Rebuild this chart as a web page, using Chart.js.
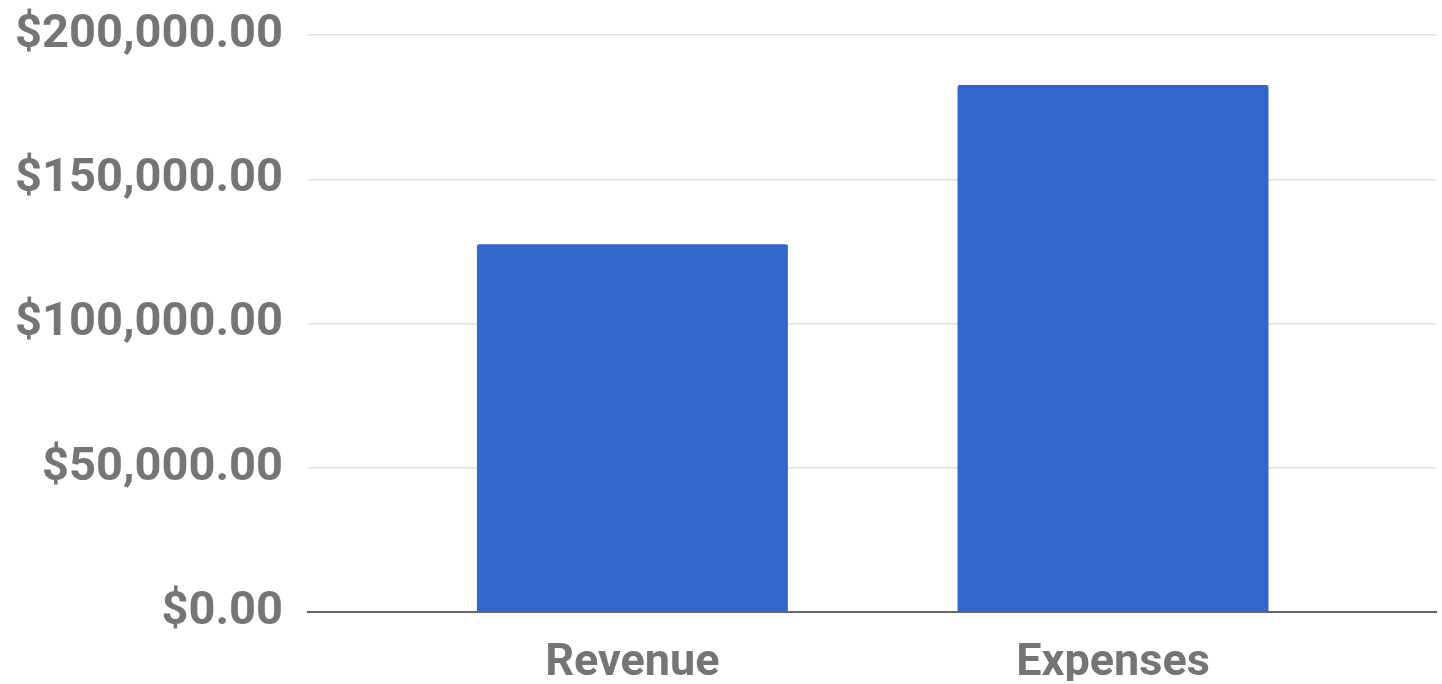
<!DOCTYPE html>
<html>
<head>
<meta charset="utf-8">
<script src="https://cdn.jsdelivr.net/npm/chart.js@4/dist/chart.umd.min.js"></script>
<style>
  html, body { margin: 0; padding: 0; background: #fff; }
  #wrap { width: 1442px; height: 684px; }
</style>
</head>
<body>
<div id="wrap"><canvas id="grafico"></canvas></div>
<script>
const categorias = ['Revenue', 'Expenses']
const valores = [127500, 182700]
const yTicks = [0, 50000, 100000, 150000, 200000]

const dinero = v => '$' + v.toLocaleString('en-US', { minimumFractionDigits: 2, maximumFractionDigits: 2 })

const puntos = categorias.map((c, i) => ({ x: i, y: valores[i] }))

new Chart(document.getElementById('grafico'), {
    type: 'bar',
    data: {
        datasets: [
            {
                label: 'Amount',
                backgroundColor: '#3366cc',
                borderRadius: 2,
                barPercentage: 0.647,
                categoryPercentage: 1,
                data: puntos
            }
        ]
    },
    options: {
        responsive: true,
        maintainAspectRatio: false,
        animation: false,
        layout: { padding: { top: 35, left: 17, right: 6, bottom: 3 } },
        plugins: {
            legend: { display: false },
            tooltip: { enabled: false }
        },
        scales: {
            x: {
                type: 'linear',
                offset: false,
                min: -0.675,
                max: 1.672,
                afterBuildTicks: scale => {
                    scale.ticks = categorias.map((c, i) => ({ value: i }))
                },
                afterFit: scale => {
                    scale.paddingLeft = 0
                    scale.paddingRight = 0
                    scale.height = 69
                },
                ticks: {
                    callback: v => categorias[v],
                    color: '#757575',
                    padding: 25,
                    maxRotation: 0,
                    font: { family: 'Roboto', size: 45, weight: 'bold' }
                },
                grid: { display: false, drawTicks: false, offset: false },
                border: { display: true, color: '#666666', width: 2 }
            },
            y: {
                min: 0,
                max: 200000,
                afterBuildTicks: scale => {
                    scale.ticks = yTicks.map(v => ({ value: v }))
                },
                afterFit: scale => {
                    scale.paddingTop = 0
                    scale.paddingBottom = 0
                    scale.width = 291
                },
                ticks: {
                    callback: v => dinero(v),
                    color: '#757575',
                    padding: 25,
                    font: { family: 'Roboto', size: 47, weight: 'bold' }
                },
                grid: { color: '#e0e0e0', lineWidth: 1.5, drawTicks: false },
                border: { display: false }
            }
        }
    }
});
</script>
</body>
</html>
